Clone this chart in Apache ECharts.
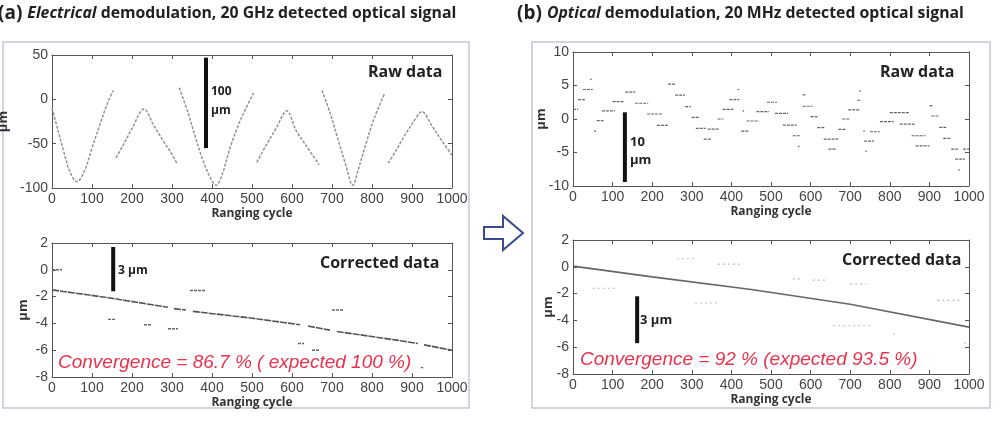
<!DOCTYPE html>
<html>
<head>
<meta charset="utf-8">
<script src="https://cdn.jsdelivr.net/npm/echarts@6/dist/echarts.min.js"></script>
<style>
  html, body { margin: 0; padding: 0; background: #fff; }
  #chart { width: 1001px; height: 423px; }
</style>
</head>
<body>
<div id="chart"></div>
<script>
// (a) electrical demodulation, raw data: wrapped segments of [cycle, um]
const rawElecSegments = [
  [[0, -10], [15, -35], [30, -60], [45, -82], [62, -93], [80, -82], [100, -55], [120, -28], [140, -3], [153, 10]],
  [[160, -66], [180, -50], [200, -33], [230, -11], [255, -30], [280, -48], [300, -62], [312, -72]],
  [[318, 13], [340, -15], [360, -45], [380, -72], [400, -92], [410, -97], [425, -85], [445, -55], [465, -30], [485, -10], [505, 8]],
  [[512, -71], [535, -52], [560, -33], [587, -13], [610, -35], [635, -52], [668, -74]],
  [[675, 10], [695, -15], [715, -45], [735, -75], [752, -97], [765, -80], [785, -50], [805, -22], [832, 7]],
  [[840, -72], [860, -58], [880, -42], [900, -28], [925, -14], [950, -30], [975, -47], [1000, -63]]
];

// (a) corrected data: main trend pieces and stray dashes [x1, x2, um]
const corrElecSegments = [
  [[0, -1.5], [145, -2.1], [290, -2.8]],
  [[305, -2.9], [335, -3.0]],
  [[352, -3.1], [497, -3.6], [620, -4.1]],
  [[640, -4.2], [695, -4.5]],
  [[712, -4.6], [862, -5.25], [915, -5.5]],
  [[930, -5.6], [1000, -6.0]]
];
const corrElecStray = [
  [0, 25, 0.0], [140, 160, -3.7], [230, 250, -4.1], [290, 315, -4.4],
  [345, 385, -1.55], [700, 730, -3.0], [650, 670, -6.0], [615, 630, -5.5], [922, 928, -7.3]
];

// (b) optical demodulation, raw data dashes [x1, x2, um]
const rawOptDashes = [
  [0, 13, 1.45], [13, 30, 2.9], [25, 50, 4.4], [43, 47, 5.9], [60, 77, -0.25], [53, 58, -1.8],
  [73, 106, 1.2], [100, 130, 2.6], [132, 157, 4.0], [157, 190, 2.35], [187, 225, 0.75],
  [212, 240, -0.95], [240, 258, 5.2], [258, 283, 3.55], [283, 297, 1.85], [300, 318, 0.25],
  [310, 335, -1.4], [340, 370, -1.5], [330, 350, -3.0], [365, 380, 0.0], [378, 405, 1.45],
  [395, 420, 2.9], [416, 420, 4.4], [425, 445, -1.8], [438, 470, -0.3], [428, 432, 1.2],
  [463, 495, 1.1], [490, 515, 2.5], [510, 543, 0.85], [530, 565, -0.9], [555, 573, -2.5],
  [568, 572, -4.1], [580, 587, 3.6], [580, 605, 1.9], [600, 620, 0.35], [617, 635, -1.3],
  [633, 670, -3.0], [645, 665, -4.5], [670, 690, -1.55], [680, 700, 0.0], [695, 725, 1.35],
  [718, 727, 2.8], [723, 727, 4.2], [733, 737, -1.8], [750, 775, -1.9], [735, 760, -3.3],
  [738, 742, -4.8], [775, 810, -0.4], [800, 850, 0.95], [825, 865, -0.75], [855, 890, -2.5],
  [865, 900, -4.0], [900, 910, 2.0], [905, 925, 0.45], [925, 945, -1.25], [935, 955, -2.9],
  [955, 972, -4.5], [965, 990, -6.0], [973, 977, -7.6], [985, 1000, -4.5]
];

// (b) corrected data
const corrOptSegments = [
  [[0, 0.05], [200, -0.75], [450, -1.7], [700, -2.8], [1000, -4.5]]
];
const corrOptStray = [
  [262, 313, 0.6], [366, 430, 0.2], [50, 110, -1.6], [308, 364, -2.7], [555, 580, -0.9],
  [606, 644, -1.0], [700, 740, -1.3], [920, 977, -2.5], [657, 757, -4.4], [808, 812, -5.0], [988, 992, -5.7]
];

// scale bars [cycle, from um, to um] per panel: TL, BL, TR, BR
const scaleBars = [[385, 47, -55], [153, 1.7, -1.6], [131, 1.0, -9.4], [162, -2.2, -5.7]];

const axisFont = 'Liberation Sans, Arial, sans-serif';
const boldFont = 'Open Sans, DejaVu Sans, sans-serif';

const grids = [
  { left: 52, top: 55, width: 400, height: 133, outerBoundsMode: 'none' },
  { left: 52, top: 243, width: 400, height: 134, outerBoundsMode: 'none' },
  { left: 573, top: 52, width: 396, height: 134, outerBoundsMode: 'none' },
  { left: 573, top: 240, width: 396, height: 134, outerBoundsMode: 'none' }
];
// [min, max, step, name gap]
const yRanges = [[-100, 50, 50, 42], [-8, 2, 2, 22], [-10, 10, 5, 25], [-8, 2, 2, 18]];

const xAxes = [], yAxes = [];
grids.forEach((g, i) => {
  const line = { show: true, onZero: false, lineStyle: { color: '#555', width: 1 } };
  const tick = { show: true, inside: true, length: 4, lineStyle: { color: '#555' } };
  xAxes.push({
    type: 'value', gridIndex: i, min: 0, max: 1000, interval: 100, position: 'bottom',
    axisLine: line, axisTick: tick, splitLine: { show: false },
    axisLabel: { color: '#444', fontSize: 14, fontFamily: axisFont, margin: 4, formatter: v => String(v) },
    name: 'Ranging cycle', nameLocation: 'middle', nameGap: 20, nameMoveOverlap: false,
    nameTextStyle: { fontFamily: boldFont, fontWeight: 'bold', fontSize: 12, color: '#333' }
  });
  xAxes.push({
    type: 'value', gridIndex: i, min: 0, max: 1000, interval: 100, position: 'top',
    axisLine: line, axisTick: tick, axisLabel: { show: false }, splitLine: { show: false }
  });
  const [lo, hi, step, gap] = yRanges[i];
  yAxes.push({
    type: 'value', gridIndex: i, min: lo, max: hi, interval: step, position: 'left',
    axisLine: line, axisTick: tick, splitLine: { show: false },
    axisLabel: { color: '#444', fontSize: 14, fontFamily: axisFont, margin: 4 },
    name: 'µm', nameLocation: 'middle', nameGap: gap, nameRotate: 90, nameMoveOverlap: false,
    nameTextStyle: { fontFamily: boldFont, fontWeight: 'bold', fontSize: 13, color: '#333' }
  });
  yAxes.push({
    type: 'value', gridIndex: i, min: lo, max: hi, interval: step, position: 'right',
    axisLine: line, axisTick: tick, axisLabel: { show: false }, splitLine: { show: false }
  });
});

function lineSeries(gi, segments, color, width, type, smooth) {
  const data = [];
  segments.forEach((s, k) => { if (k) data.push('-'); data.push(...s); });
  return {
    type: 'line', xAxisIndex: gi * 2, yAxisIndex: gi * 2, data: data, symbol: 'none',
    connectNulls: false, smooth: smooth || false, silent: true,
    lineStyle: { color: color, width: width, type: type }
  };
}
function dashes(list) {
  return list.map(d => [[d[0], d[2]], [d[1], d[2]]]);
}

const series = [
  lineSeries(0, rawElecSegments, '#929292', 1.5, [3, 1.5], 0.35),
  lineSeries(1, corrElecSegments, '#555', 1.6, [7, 1], false),
  lineSeries(1, dashes(corrElecStray), '#666', 1.4, [3, 1], false),
  lineSeries(2, dashes(rawOptDashes), '#666', 1.2, [3, 1], false),
  lineSeries(3, corrOptSegments, '#666', 1.6, 'solid', false),
  lineSeries(3, dashes(corrOptStray), '#bbb', 1.2, [2, 3], false)
];
scaleBars.forEach((b, gi) => {
  series.push(lineSeries(gi, [[[b[0], b[1]], [b[0], b[2]]]], '#111', 4, 'solid', false));
});

const red = '#e6334e';
function txt(text, x, y, size, opts) {
  return {
    type: 'text', x: x, y: y, silent: true, z: 100,
    style: Object.assign({
      text: text, fill: '#222', fontFamily: boldFont, fontWeight: 'bold', fontSize: size,
      verticalAlign: 'middle', textVerticalAlign: 'middle'
    }, opts || {})
  };
}

const graphic = [
  { type: 'rect', shape: { x: 3, y: 42, width: 466, height: 366 }, style: { fill: 'none', stroke: '#c3c6d6', lineWidth: 1.5 }, z: -1 },
  { type: 'rect', shape: { x: 532, y: 42, width: 458, height: 366 }, style: { fill: 'none', stroke: '#c3c6d6', lineWidth: 1.5 }, z: -1 },
  { type: 'polygon', shape: { points: [[484, 227], [503, 227], [503, 216], [523, 233], [503, 250], [503, 239], [484, 239]] },
    style: { fill: '#fff', stroke: '#3b4a8c', lineWidth: 2 } },
  txt('Raw data', 368, 72, 16),
  txt('Raw data', 880, 72, 16),
  txt('Corrected data', 320, 263, 16),
  txt('Corrected data', 842, 260, 16),
  txt('100', 211, 92, 12),
  txt('µm', 211, 111, 12),
  txt('3 µm', 118, 271, 12),
  txt('10', 630, 142, 13),
  txt('µm', 630, 160, 13),
  txt('3 µm', 640, 320, 13),
  txt('Convergence = 86.7 % ( expected 100 %)', 58, 363, 19, { fill: red, fontFamily: axisFont, fontWeight: 'normal', fontStyle: 'italic' }),
  txt('Convergence = 92 % (expected 93.5 %)', 580, 360, 19, { fill: red, fontFamily: axisFont, fontWeight: 'normal', fontStyle: 'italic' })
];

const titleRich = {
  p: { fontFamily: boldFont, fontWeight: 'bold', fontSize: 19, color: '#222' },
  i: { fontFamily: boldFont, fontWeight: 'bold', fontStyle: 'italic', fontSize: 15.8, color: '#222' },
  n: { fontFamily: boldFont, fontWeight: 'bold', fontSize: 15.8, color: '#222' }
};

const chart = echarts.init(document.getElementById('chart'));
chart.setOption({
  animation: false,
  backgroundColor: '#fff',
  title: [
    { text: '{p|(a)} {i|Electrical}{n| demodulation, 20 GHz detected optical signal}', left: -2, top: 4, padding: 0, textStyle: { rich: titleRich } },
    { text: '{p|(b)} {i|Optical}{n| demodulation, 20 MHz detected optical signal}', left: 517, top: 4, padding: 0, textStyle: { rich: titleRich } }
  ],
  grid: grids,
  xAxis: xAxes,
  yAxis: yAxes,
  series: series,
  graphic: graphic
});
</script>
</body>
</html>
